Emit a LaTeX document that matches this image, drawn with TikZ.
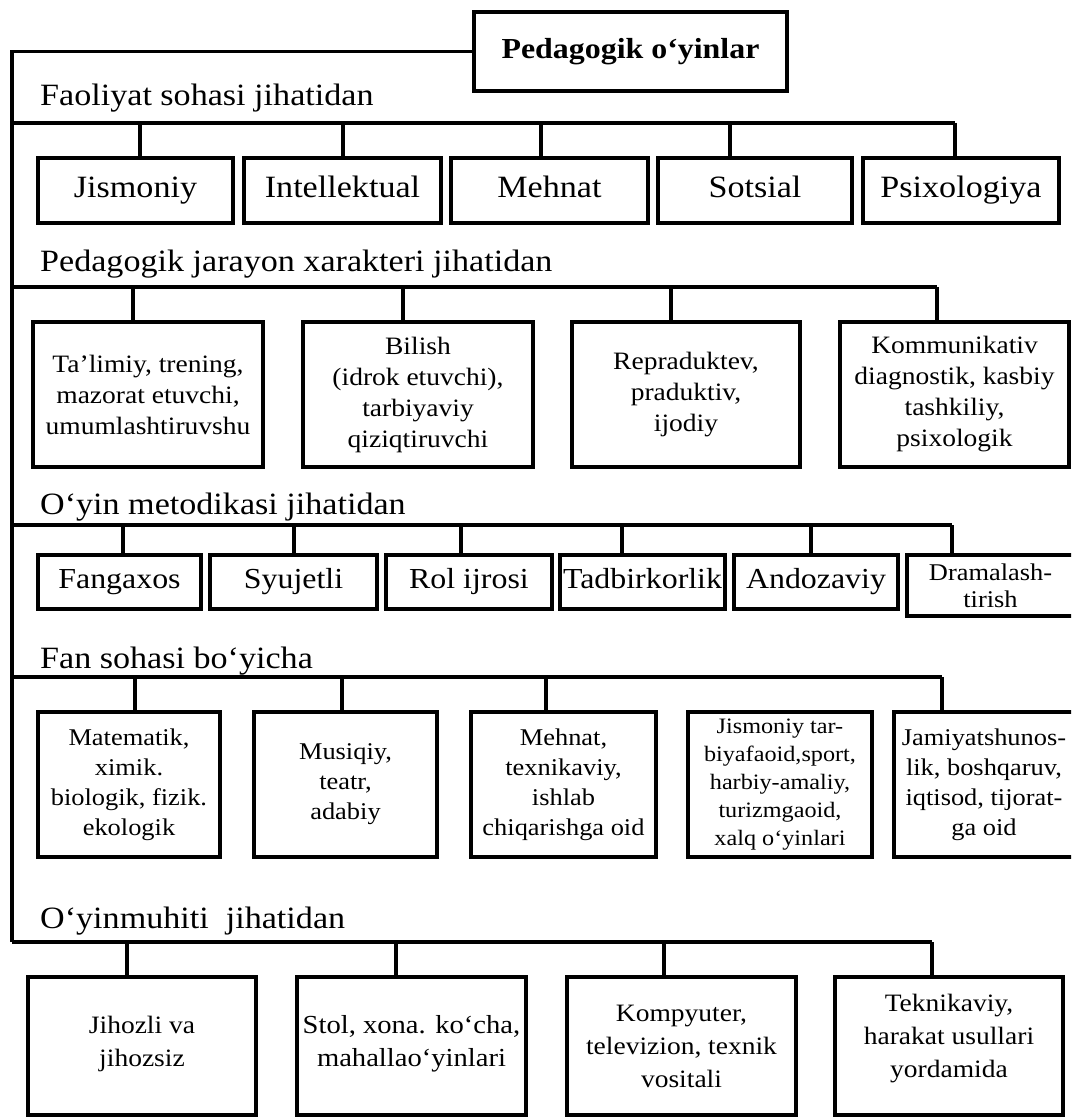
\documentclass[tikz,border=0pt]{standalone}
\usepackage{fontspec}
\setmainfont{Liberation Serif}[FakeStretch=1.1]
\begin{document}
\begin{tikzpicture}[x=1pt,y=-1pt,
  conn/.style={line width=3.2pt, line join=miter},
  box/.style={draw, line width=3.2pt, rectangle, align=center, inner sep=1pt, outer sep=0pt},
  lbl/.style={anchor=base west, inner sep=0pt, font=\fontsize{31}{36}\selectfont},
  rowa/.style={box, minimum height=65, text height=21, text depth=7, font=\fontsize{31}{36}\selectfont},
  rowb/.style={box, minimum height=145, font=\fontsize{25}{31}\selectfont},
  rowc/.style={box, minimum height=54, text height=20, text depth=7, font=\fontsize{29}{34}\selectfont},
  rowd/.style={box, minimum height=145, font=\fontsize{24}{30}\selectfont},
  rowe/.style={box, minimum height=138, font=\fontsize{25}{33}\selectfont}
]
\useasboundingbox (0,0) rectangle (1071,1118);
\clip (0,0) rectangle (1071,1118);
\fill[white] (0,0) rectangle (1071,1118);

% root
\node[box, font=\fontsize{29}{34}\bfseries, minimum width=313, minimum height=79] (root) at (630.5,51.5) {Pedagogik o‘yinlar};
\coordinate (s5) at (12,942);
\draw[conn] (root.west) -| (s5);

% section labels
\node[lbl] (l1) at (40,106) {Faoliyat sohasi jihatidan};
\node[lbl] (l2) at (40,271) {Pedagogik jarayon xarakteri jihatidan};
\node[lbl] (l3) at (40,514) {O‘yin metodikasi jihatidan};
\node[lbl] (l4) at (40,668) {Fan sohasi bo‘yicha};
\node[lbl] (l5) at (40,928) {O‘yinmuhiti\ \ jihatidan};

% row 1
\node[rowa, minimum width=195] (r11) at (135.5,190.5) {Jismoniy};
\node[rowa, minimum width=197] (r12) at (342.5,190.5) {Intellektual};
\node[rowa, minimum width=197] (r13) at (549.5,190.5) {Mehnat};
\node[rowa, minimum width=194] (r14) at (755,190.5) {Sotsial};
\node[rowa, minimum width=196] (r15) at (961,190.5) {Psixologiya};
\coordinate (b1) at (12,123);
\foreach \n/\x in {11/140,12/343,13/541,14/730,15/955}{
  \coordinate (t\n) at (\x,123);
  \draw[conn] (t\n) -- (t\n |- r\n.north);
}
\draw[conn] (b1) -- (t15);

% row 2
\node[rowb, minimum width=230] (r21) at (148,394.5) {Ta’limiy, trening,\\mazorat etuvchi,\\umumlashtiruvshu};
\node[rowb, minimum width=230] (r22) at (418,394.5) {Bilish\\(idrok etuvchi),\\tarbiyaviy\\qiziqtiruvchi};
\node[rowb, minimum width=228] (r23) at (686,394.5) {Repraduktev,\\praduktiv,\\ijodiy};
\node[rowb, minimum width=229] (r24) at (954.5,394.5) {Kommunikativ\\diagnostik, kasbiy\\tashkiliy,\\psixologik};
\coordinate (b2) at (12,287);
\foreach \n/\x in {21/133,22/403,23/671,24/937}{
  \coordinate (t\n) at (\x,287);
  \draw[conn] (t\n) -- (t\n |- r\n.north);
}
\draw[conn] (b2) -- (t24);

% row 3
\node[rowc, minimum width=163] (r31) at (119.5,582) {Fangaxos};
\node[rowc, minimum width=167] (r32) at (293.5,582) {Syujetli};
\node[rowc, minimum width=166] (r33) at (469,582) {Rol ijrosi};
\node[rowc, minimum width=165] (r34) at (642.5,582) {Tadbirkorlik};
\node[rowc, minimum width=164] (r35) at (816,582) {Andozaviy};
\node[box, minimum width=167, minimum height=61, font=\fontsize{24}{27}\selectfont] (r36) at (990.5,585.5) {Dramalash-\\tirish};
\coordinate (b3) at (12,525);
\foreach \n/\x in {31/123,32/294,33/461,34/622,35/811,36/952}{
  \coordinate (t\n) at (\x,525);
  \draw[conn] (t\n) -- (t\n |- r\n.north);
}
\draw[conn] (b3) -- (t36);

% row 4
\node[rowd, minimum width=182] (r41) at (129,784.5) {Matematik,\\ximik.\\biologik, fizik.\\ekologik};
\node[rowd, minimum width=183] (r42) at (345.5,784.5) {Musiqiy,\\teatr,\\adabiy};
\node[rowd, minimum width=185] (r43) at (563.5,784.5) {Mehnat,\\texnikaviy,\\ishlab\\chiqarishga oid};
\node[rowd, minimum width=184, font=\fontsize{22}{28}\selectfont] (r44) at (780,784.5) {Jismoniy tar-\\biyafaoid,sport,\\harbiy-amaliy,\\turizmgaoid,\\xalq o‘yinlari};
\node[rowd, minimum width=180] (r45) at (984,784.5) {Jamiyatshunos-\\lik, boshqaruv,\\iqtisod, tijorat-\\ga oid};
\coordinate (b4) at (12,677);
\foreach \n/\x in {41/135,42/342,43/546,45/942}{
  \coordinate (t\n) at (\x,677);
  \draw[conn] (t\n) -- (t\n |- r\n.north);
}
\draw[conn] (b4) -- (t45);

% row 5
\node[rowe, minimum width=228] (r51) at (142,1046) {Jihozli va\\jihozsiz\\[-23pt]};
\node[rowe, minimum width=229, font=\fontsize{26}{33}\selectfont] (r52) at (411.5,1046) {Stol, xona. ko‘cha,\\mahallao‘yinlari\\[-23pt]};
\node[rowe, minimum width=229] (r53) at (681.5,1046) {Kompyuter,\\televizion, texnik\\vositali};
\node[rowe, minimum width=228] (r54) at (949,1046) {Teknikaviy,\\harakat usullari\\yordamida\\[-13pt]};
\foreach \n/\x in {51/127,52/396,53/664,54/932}{
  \coordinate (t\n) at (\x,942);
  \draw[conn] (t\n) -- (t\n |- r\n.north);
}
\draw[conn] (s5) -- (t54);
\end{tikzpicture}
\end{document}
